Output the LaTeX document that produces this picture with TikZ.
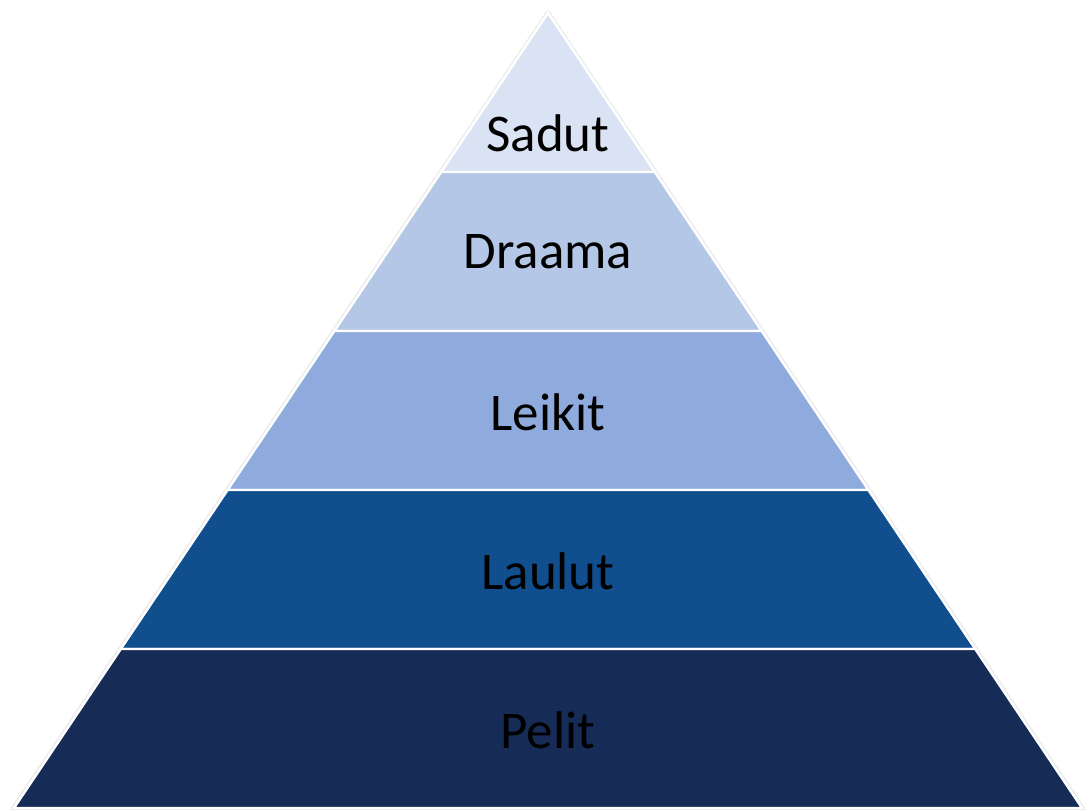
\documentclass[tikz,border=0pt]{standalone}
\usepackage{fontspec}
\setmainfont{Carlito}
\usepackage{tikz}
\usetikzlibrary{positioning}

\definecolor{sadutcol}{RGB}{218,227,243}
\definecolor{draamacol}{RGB}{180,199,231}
\definecolor{leikitcol}{RGB}{143,170,220}
\definecolor{laulutcol}{RGB}{16,78,142}
\definecolor{pelitcol}{RGB}{22,43,86}

\begin{document}
\begin{tikzpicture}[
    x=1pt, y=1pt,
    layer/.style={draw=white, line width=2.4pt, line join=miter},
    lbl/.style={font=\fontsize{53}{62}\selectfont, text=black, inner sep=0pt},
    glow/.style={draw=black, line width=5pt, opacity=0.08, line join=round}
]
\useasboundingbox (0,0) rectangle (1085,810);

% soft shadow round the whole pyramid
\draw[glow] (548,797) -- (1083,1) -- (13,1) -- cycle;

% Top layer (triangle)
\filldraw[layer, fill=sadutcol] (548,797) -- (654.8,638) -- (441.2,638) -- cycle;

% Other layers (trapezoids), 159 high each
\foreach \i/\col in {1/draamacol, 2/leikitcol, 3/laulutcol, 4/pelitcol}{
    \pgfmathsetmacro{\yt}{797-159*\i}
    \pgfmathsetmacro{\yb}{797-159*(\i+1)}
    \pgfmathsetmacro{\wt}{0.6717*159*\i}
    \pgfmathsetmacro{\wb}{0.6717*159*(\i+1)}
    \filldraw[layer, fill=\col] (548-\wt,\yt) -- (548+\wt,\yt) -- (548+\wb,\yb) -- (548-\wb,\yb) -- cycle;
}

% Labels
\node[lbl] (sadut) at (548,677) {Sadut};
\node[lbl] (draama) at (548,558) {Draama};
\node[lbl] (leikit) at (548,398) {Leikit};
\node[lbl] (laulut) at (548,239) {Laulut};
\node[lbl] (pelit) at (548,80) {Pelit};

\end{tikzpicture}
\end{document}
